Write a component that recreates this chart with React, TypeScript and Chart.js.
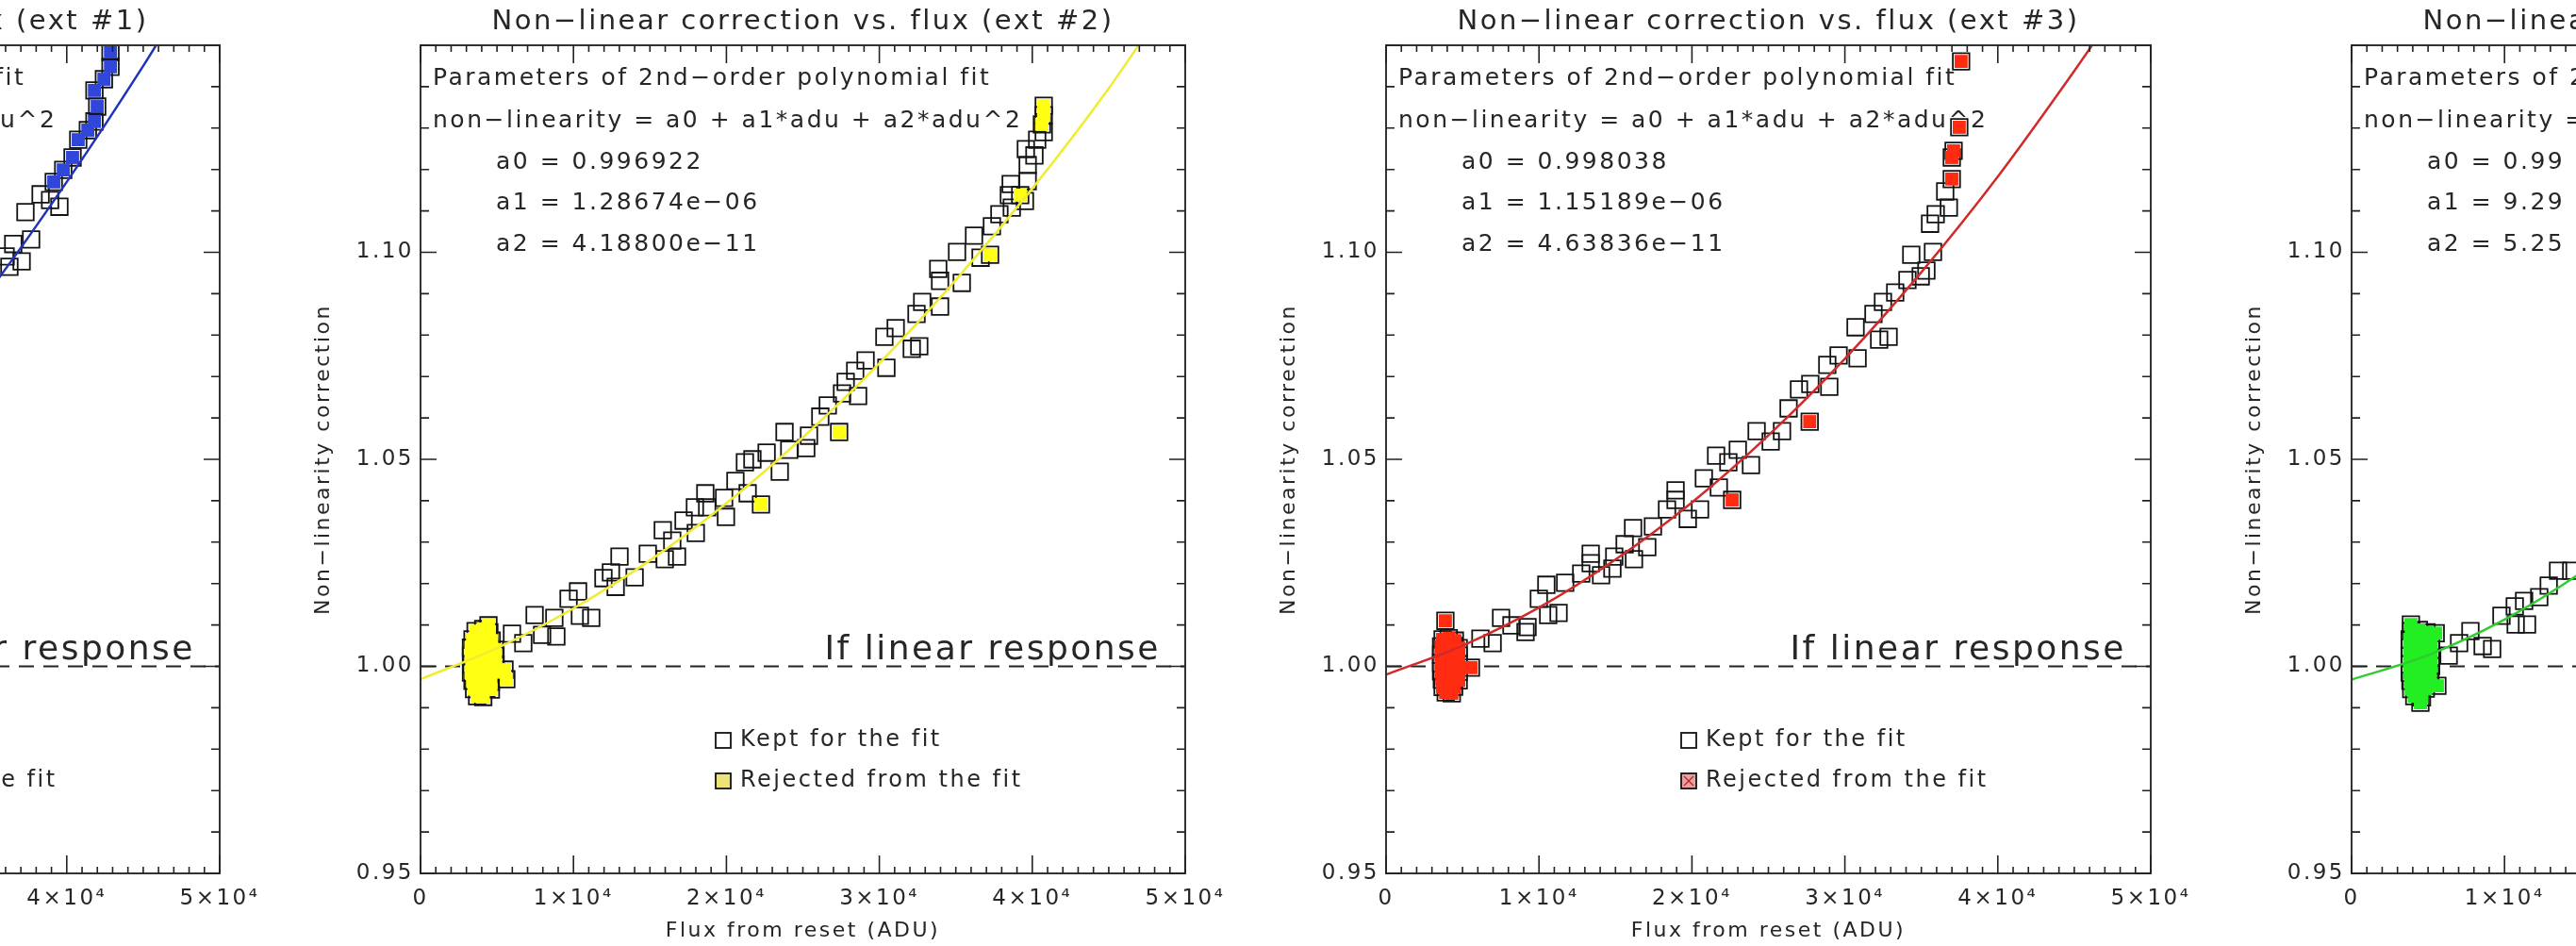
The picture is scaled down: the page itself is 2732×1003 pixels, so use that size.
import React, { useEffect, useRef } from 'react';
import { Chart, registerables } from 'chart.js';

Chart.register(...registerables);

type Pt = [number, number];

// ---------- axis ticks ----------
const X_TICKS = [0, 10000, 20000, 30000, 40000, 50000];
const X_TICK_LABELS = ['0', '1×10⁴', '2×10⁴', '3×10⁴', '4×10⁴', '5×10⁴'];
const Y_TICKS = [0.95, 1.0, 1.05, 1.1, 1.15];
const Y_TICK_LABELS = ['0.95', '1.00', '1.05', '1.10', ''];

const X_TITLE = 'Flux from reset (ADU)';
const Y_TITLE = 'Non−linearity correction';
const PARAM_TITLE = 'Parameters of 2nd−order polynomial fit';
const PARAM_FORMULA = 'non−linearity = a0 + a1*adu + a2*adu^2';
const LINEAR_LABEL = 'If linear response';
const LEGEND_KEPT = 'Kept for the fit';
const LEGEND_REJECTED = 'Rejected from the fit';
const LINEAR_LEVEL: Pt[] = [[0, 1.0], [50000, 1.0]];

// ---------- ext #1 ----------
const ext1Kept: Pt[] = [
  [36000, 1.0990], [36250, 1.0965], [36500, 1.1020], [37050, 1.0978], [37670, 1.1031],
  [37300, 1.1097], [38290, 1.1140], [38910, 1.1126], [39520, 1.1110],
];
const ext1Rejected: Pt[] = [
  [39150, 1.1170], [39770, 1.1199], [40380, 1.1229], [40750, 1.1272], [41380, 1.1295],
  [41810, 1.1316], [41990, 1.1352], [41810, 1.1391], [42430, 1.1418], [42860, 1.1448],
  [42860, 1.1484],
];
const ext1Fit: Pt[] = [[30000, 1.068], [35000, 1.091], [40000, 1.117], [45000, 1.145], [47000, 1.157]];
const ext1Params: string[] = [];

// ---------- ext #2 ----------
const ext2Kept: Pt[] = [
  [5980, 1.0079], [6720, 1.0056], [7460, 1.0124], [7950, 1.0076], [8880, 1.0072],
  [8750, 1.0117], [9680, 1.0163], [10300, 1.0181], [10420, 1.0122], [11160, 1.0117],
  [11960, 1.0213], [12450, 1.0227], [13010, 1.0265], [12760, 1.0192], [14000, 1.0215],
  [16460, 1.0304], [14860, 1.0272], [15840, 1.0329], [15970, 1.0259], [16770, 1.0265],
  [17200, 1.0352], [18000, 1.0322], [17940, 1.0384], [18620, 1.0418], [18740, 1.0384],
  [19970, 1.0361], [19850, 1.0407], [20590, 1.0448], [21390, 1.0418], [21210, 1.0493],
  [21700, 1.0500], [22630, 1.0516], [23490, 1.0470], [23800, 1.0566], [24110, 1.0523],
  [25220, 1.0527], [25400, 1.0557], [26140, 1.0603], [26630, 1.0630], [27560, 1.0659],
  [27800, 1.0687], [28610, 1.0653], [28420, 1.0714], [29100, 1.0739], [30460, 1.0721],
  [30330, 1.0796], [31070, 1.0817], [32120, 1.0767], [32610, 1.0773], [32430, 1.0851],
  [32800, 1.0880], [33970, 1.0869], [33850, 1.0960], [33970, 1.0931], [35390, 1.0926],
  [35080, 1.1001], [36190, 1.1040], [36620, 1.0987], [37360, 1.1063], [37850, 1.1092],
  [38660, 1.1108], [39520, 1.1124], [38470, 1.1138], [38590, 1.1165], [39700, 1.1172],
  [39700, 1.1211], [40140, 1.1234], [39580, 1.1249], [40320, 1.1272], [40750, 1.1290],
];
const ext2Rejected: Pt[] = [
  [3600, 1.0085], [4100, 1.0090], [4500, 1.0082],
  [3400, 1.0065], [3800, 1.0068], [4200, 1.0066], [4650, 1.0062],
  [3300, 1.0045], [3700, 1.0048], [4100, 1.0043], [4500, 1.0047], [4850, 1.0040],
  [3300, 1.0025], [3700, 1.0022], [4100, 1.0027], [4500, 1.0021], [4900, 1.0026],
  [3350, 1.0005], [3750, 1.0003], [4150, 1.0006], [4550, 1.0001], [4900, 1.0004],
  [3300, 0.9985], [3700, 0.9982], [4100, 0.9987], [4500, 0.9983], [4850, 0.9986],
  [3400, 0.9965], [3800, 0.9962], [4200, 0.9967], [4600, 0.9963],
  [3500, 0.9945], [3900, 0.9943], [4300, 0.9947], [4600, 0.9944],
  [3700, 0.9928], [4100, 0.9926],
  [4440, 1.0099], [5490, 0.9992], [5610, 0.9969],
  [22260, 1.0391], [27370, 1.0566], [37240, 1.0994], [39210, 1.1138],
  [40630, 1.1309], [40750, 1.1331], [40750, 1.1354],
];
const ext2Fit: Pt[] = [
  [0, 0.9969], [5000, 1.0044], [10000, 1.0140], [15000, 1.0256], [20000, 1.0394],
  [25000, 1.0553], [30000, 1.0732], [35000, 1.0933], [40000, 1.1154], [45000, 1.1396],
  [47500, 1.1530],
];
const ext2Params = ['a0 = 0.996922', 'a1 = 1.28674e−06', 'a2 = 4.18800e−11'];

// ---------- ext #3 ----------
const ext3Kept: Pt[] = [
  [6170, 1.0067], [6970, 1.0056], [7520, 1.0117], [8200, 1.0099], [9120, 1.0083],
  [9250, 1.0095], [9990, 1.0163], [10480, 1.0197], [10600, 1.0124], [11280, 1.0129],
  [11710, 1.0202], [12760, 1.0224], [13380, 1.0272], [13380, 1.0249], [14060, 1.0220],
  [14920, 1.0265], [14800, 1.0236], [15600, 1.0295], [16150, 1.0334], [16210, 1.0259],
  [17080, 1.0288], [17450, 1.0338], [18370, 1.0379], [18930, 1.0425], [18930, 1.0402],
  [19730, 1.0356], [20530, 1.0379], [20780, 1.0454], [21580, 1.0509], [21760, 1.0432],
  [22380, 1.0493], [23000, 1.0523], [23860, 1.0486], [24230, 1.0568], [25150, 1.0543],
  [25890, 1.0568], [26320, 1.0623], [27000, 1.0669], [27740, 1.0682], [28980, 1.0675],
  [28850, 1.0728], [29590, 1.0751], [30830, 1.0744], [30700, 1.0819], [31870, 1.0851],
  [32490, 1.0880], [32860, 1.0796], [32240, 1.0789], [33290, 1.0903], [34090, 1.0933],
  [34960, 1.0942], [35330, 1.0956], [34340, 1.0994], [35760, 1.1001], [35570, 1.1069],
  [35940, 1.1092], [36800, 1.1108], [36560, 1.1147],
];
const ext3Rejected: Pt[] = [
  [3700, 1.0065], [4100, 1.0068], [4500, 1.0062],
  [3600, 1.0048], [4000, 1.0045], [4400, 1.0049], [4750, 1.0044],
  [3600, 1.0028], [4000, 1.0025], [4400, 1.0030], [4750, 1.0026],
  [3600, 1.0008], [4000, 1.0005], [4400, 1.0010], [4750, 1.0006],
  [3600, 0.9988], [4000, 0.9985], [4400, 0.9990], [4750, 0.9987],
  [3650, 0.9968], [4050, 0.9965], [4450, 0.9970], [4750, 0.9966],
  [3700, 0.9950], [4100, 0.9946], [4450, 0.9951],
  [3900, 0.9937], [4300, 0.9935],
  [3880, 1.0110], [5550, 0.9997],
  [22630, 1.0402], [27700, 1.0591], [36990, 1.1177], [36990, 1.1229], [37110, 1.1245],
  [37480, 1.1302], [37600, 1.1461],
];
const ext3Fit: Pt[] = [
  [0, 0.9980], [5000, 1.0050], [10000, 1.0142], [15000, 1.0258], [20000, 1.0396],
  [25000, 1.0558], [30000, 1.0743], [35000, 1.0952], [40000, 1.1183], [45000, 1.1438],
  [47000, 1.1545],
];
const ext3Params = ['a0 = 0.998038', 'a1 = 1.15189e−06', 'a2 = 4.63836e−11'];

// ---------- ext #4 ----------
const ext4Kept: Pt[] = [
  [6350, 1.0026], [7030, 1.0056], [7770, 1.0085], [8570, 1.0049], [9190, 1.0042],
  [9800, 1.0122], [10670, 1.0145], [10730, 1.0101], [11470, 1.0101], [11280, 1.0158],
  [12270, 1.0167], [12890, 1.0195], [13500, 1.0231], [14360, 1.0231],
];
const ext4Rejected: Pt[] = [
  [3900, 1.0085], [4400, 1.0088], [4900, 1.0082],
  [3800, 1.0065], [4300, 1.0068], [4800, 1.0062], [5200, 1.0060],
  [3800, 1.0045], [4300, 1.0042], [4800, 1.0047], [5200, 1.0040],
  [3800, 1.0025], [4300, 1.0022], [4800, 1.0027], [5200, 1.0021],
  [3800, 1.0005], [4300, 1.0002], [4800, 1.0006], [5200, 1.0001],
  [3800, 0.9985], [4300, 0.9982], [4800, 0.9987], [5150, 0.9983],
  [3850, 0.9965], [4350, 0.9962], [4800, 0.9967], [5100, 0.9963],
  [3900, 0.9945], [4400, 0.9942], [4850, 0.9946],
  [4100, 0.9928], [4600, 0.9925],
  [3880, 1.0101], [4500, 0.9912], [5610, 0.9953], [5500, 1.0080],
];
const ext4Fit: Pt[] = [[0, 0.9968], [5000, 1.0027], [10000, 1.0113], [15000, 1.0226], [20000, 1.0363]];
const ext4Params = ['a0 = 0.99', 'a1 = 9.29', 'a2 = 5.25'];

// ---------- layout / style ----------
const FONT = "'DejaVu Sans', 'Noto Sans', sans-serif";
const TEXT = '#262626';
const Y_BAND = 160;          // y-axis band width inside each canvas
const CANVAS_W = 1024;
const CANVAS_H = 1003;
const PANEL_PITCH = 1024;
const FIRST_AXIS_LEFT = 446 - PANEL_PITCH;

interface PanelCfg {
  ext: number;
  kept: Pt[];
  rejected: Pt[];
  fit: Pt[];
  params: string[];
  line: string;
  fill: string;
  legendFill: string;
  cross?: boolean;
}

const PANELS: PanelCfg[] = [
  { ext: 1, kept: ext1Kept, rejected: ext1Rejected, fit: ext1Fit, params: ext1Params, line: '#2233bb', fill: '#3046d8', legendFill: '#8090e0' },
  { ext: 2, kept: ext2Kept, rejected: ext2Rejected, fit: ext2Fit, params: ext2Params, line: '#f0ec30', fill: '#ffff14', legendFill: '#ece47a' },
  { ext: 3, kept: ext3Kept, rejected: ext3Rejected, fit: ext3Fit, params: ext3Params, line: '#d02a2a', fill: '#ff2c12', legendFill: '#e8a0a0', cross: true },
  { ext: 4, kept: ext4Kept, rejected: ext4Rejected, fit: ext4Fit, params: ext4Params, line: '#30cc30', fill: '#22ee22', legendFill: '#90e890' },
];

const toXY = (pts: Pt[]) => pts.map(([x, y]) => ({ x, y }));

function Panel({ cfg, left }: { cfg: PanelCfg; left: number }) {
  const ref = useRef<HTMLCanvasElement | null>(null);

  useEffect(() => {
    const canvas = ref.current;
    if (!canvas) return;

    const decor = {
      id: 'decor',
      beforeDraw(chart: any) {
        const ctx = chart.ctx;
        ctx.save();
        ctx.fillStyle = '#ffffff';
        ctx.fillRect(0, 0, chart.width, chart.height);
        ctx.restore();
        ctx.letterSpacing = '2.5px';
      },
      beforeDatasetsDraw(chart: any) {
        const { ctx, chartArea: ca, scales } = chart;
        ctx.save();
        ctx.fillStyle = TEXT;
        ctx.textAlign = 'left';
        ctx.textBaseline = 'middle';
        ctx.font = `25px ${FONT}`;
        ctx.fillText(PARAM_TITLE, ca.left + 13, 83);
        ctx.fillText(PARAM_FORMULA, ca.left + 13, 128);
        cfg.params.forEach((t, i) => ctx.fillText(t, ca.left + 80, 172 + i * 43.5));
        ctx.font = `36px ${FONT}`;
        ctx.textAlign = 'right';
        ctx.textBaseline = 'alphabetic';
        ctx.fillText(LINEAR_LABEL, ca.left + 785, scales.y.getPixelForValue(1.0) - 8);
        ctx.restore();
      },
      afterDatasetsDraw(chart: any) {
        const { ctx, chartArea: ca, scales } = chart;
        const xs = scales.x;
        const ys = scales.y;
        ctx.save();
        // legend
        ctx.lineWidth = 1.8;
        ctx.strokeStyle = '#111';
        ctx.strokeRect(ca.left + 313, 777, 16, 16);
        ctx.fillStyle = cfg.legendFill;
        ctx.fillRect(ca.left + 313, 820, 16, 16);
        ctx.strokeRect(ca.left + 313, 820, 16, 16);
        if (cfg.cross) {
          ctx.strokeStyle = '#c02020';
          ctx.lineWidth = 1.2;
          ctx.beginPath();
          ctx.moveTo(ca.left + 316, 823); ctx.lineTo(ca.left + 326, 833);
          ctx.moveTo(ca.left + 326, 823); ctx.lineTo(ca.left + 316, 833);
          ctx.stroke();
        }
        ctx.fillStyle = TEXT;
        ctx.font = `24px ${FONT}`;
        ctx.textAlign = 'left';
        ctx.textBaseline = 'middle';
        ctx.fillText(LEGEND_KEPT, ca.left + 339, 785);
        ctx.fillText(LEGEND_REJECTED, ca.left + 339, 828);

        // frame
        ctx.strokeStyle = '#333';
        ctx.lineWidth = 2;
        ctx.strokeRect(ca.left, ca.top, ca.right - ca.left, ca.bottom - ca.top);

        // inward ticks
        ctx.lineWidth = 1.6;
        ctx.strokeStyle = '#222';
        ctx.beginPath();
        for (let k = 0; k <= 50; k++) {
          const px = xs.getPixelForValue(k * 1000);
          const len = k % 10 === 0 ? 19 : 7;
          ctx.moveTo(px, ca.bottom); ctx.lineTo(px, ca.bottom - len);
          ctx.moveTo(px, ca.top); ctx.lineTo(px, ca.top + len);
        }
        for (let k = 0; k <= 20; k++) {
          const py = ys.getPixelForValue(0.95 + k * 0.01);
          const len = k % 5 === 0 ? 17 : 9;
          ctx.moveTo(ca.left, py); ctx.lineTo(ca.left + len, py);
          ctx.moveTo(ca.right, py); ctx.lineTo(ca.right - len, py);
        }
        ctx.stroke();
        ctx.restore();
      },
    };

    const square = 12.4;
    const chart = new Chart(canvas, {
      type: 'scatter',
      data: {
        datasets: [
          {
            type: 'line', label: 'fit', data: toXY(cfg.fit), borderColor: cfg.line, borderWidth: 2.5,
            pointRadius: 0, cubicInterpolationMode: 'monotone', order: 0,
          } as any,
          {
            label: 'rejected fill', data: toXY(cfg.rejected), pointStyle: 'rect', pointRadius: 9.8,
            backgroundColor: cfg.fill, borderWidth: 0, order: 1,
          },
          {
            label: 'kept', data: toXY(cfg.kept), pointStyle: 'rect', pointRadius: square,
            backgroundColor: 'rgba(0,0,0,0)', borderColor: '#141414', borderWidth: 1.8, order: 2,
          },
          {
            label: 'rejected outline', data: toXY(cfg.rejected), pointStyle: 'rect', pointRadius: square,
            backgroundColor: 'rgba(0,0,0,0)', borderColor: '#141414', borderWidth: 1.8, order: 3,
          },
          {
            type: 'line', label: 'linear', data: toXY(LINEAR_LEVEL), borderColor: '#222', borderWidth: 2,
            borderDash: [16, 10], pointRadius: 0, order: 4,
          } as any,
        ],
      },
      options: {
        animation: false,
        responsive: false,
        maintainAspectRatio: false,
        devicePixelRatio: 1,
        events: [],
        layout: { padding: { top: 6, right: CANVAS_W - Y_BAND - 811, bottom: 0, left: 0 } },
        plugins: {
          legend: { display: false },
          tooltip: { enabled: false },
          title: {
            display: true,
            text: `Non−linear correction vs. flux (ext #${cfg.ext})`,
            fullSize: false,
            color: TEXT,
            font: { family: FONT, size: 29, weight: 'normal', lineHeight: 1.2 },
            padding: { top: 0, bottom: 7.2 },
          },
        },
        scales: {
          x: {
            type: 'linear', min: 0, max: 50000,
            afterBuildTicks: (s: any) => { s.ticks = X_TICKS.map((v) => ({ value: v })); },
            afterFit: (s: any) => { s.height = 77; },
            ticks: {
              autoSkip: false, maxRotation: 0, minRotation: 0, padding: 13, color: TEXT,
              font: { family: FONT, size: 23, lineHeight: 1.2 },
              callback: (_v: any, i: number) => X_TICK_LABELS[i],
            },
            grid: { display: false, drawTicks: false },
            border: { display: false },
            title: {
              display: true, text: X_TITLE, color: TEXT,
              font: { family: FONT, size: 22, lineHeight: 1.2 },
              padding: { top: 0, bottom: 3 },
            },
          },
          y: {
            type: 'linear', min: 0.95, max: 1.15,
            afterBuildTicks: (s: any) => { s.ticks = Y_TICKS.map((v) => ({ value: v })); },
            afterFit: (s: any) => { s.width = Y_BAND; },
            ticks: {
              autoSkip: false, padding: 7, color: TEXT,
              font: { family: FONT, size: 23, lineHeight: 1.2 },
              callback: (_v: any, i: number) => Y_TICK_LABELS[i],
            },
            grid: { display: false, drawTicks: false },
            border: { display: false },
            title: {
              display: true, text: Y_TITLE, color: TEXT,
              font: { family: FONT, size: 22, lineHeight: 1.2 },
              padding: { top: 44, bottom: 0 },
            },
          },
        },
      } as any,
      plugins: [decor],
    });

    return () => chart.destroy();
  }, [cfg]);

  return (
    <canvas
      ref={ref}
      width={CANVAS_W}
      height={CANVAS_H}
      style={{ position: 'absolute', left, top: 0, width: CANVAS_W, height: CANVAS_H }}
    />
  );
}

export default function App() {
  return (
    <div
      style={{
        position: 'absolute', left: 0, top: 0, width: 2732, height: 1003,
        overflow: 'hidden', background: '#ffffff',
      }}
    >
      {PANELS.map((p, i) => (
        <Panel key={p.ext} cfg={p} left={FIRST_AXIS_LEFT + i * PANEL_PITCH - Y_BAND} />
      ))}
    </div>
  );
}
